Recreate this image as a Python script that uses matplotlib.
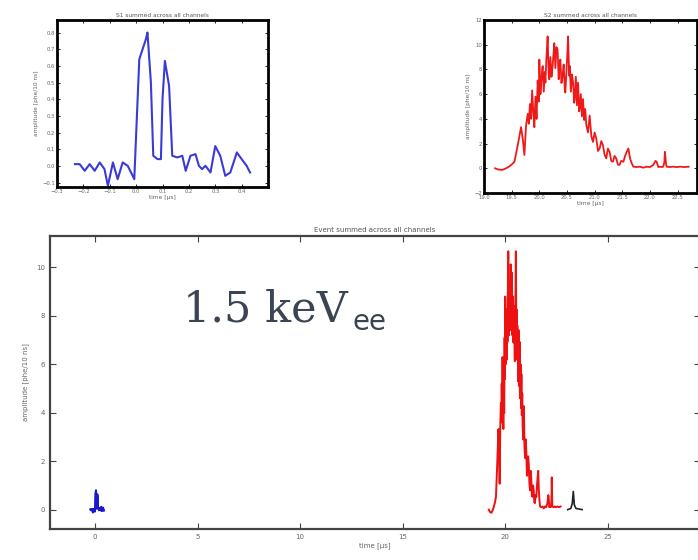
import matplotlib
matplotlib.use("Agg")
import matplotlib.pyplot as plt

# S1 pulse (time in microseconds, amplitude in phe/10 ns)
s1_time = [-0.232, -0.214, -0.195, -0.176, -0.157, -0.138, -0.120, -0.107, -0.088,
           -0.070, -0.051, -0.032, -0.013, -0.007, 0.012, 0.037, 0.043, 0.056, 0.065,
           0.081, 0.094, 0.100, 0.109, 0.125, 0.137, 0.156, 0.175, 0.188, 0.206, 0.225,
           0.238, 0.250, 0.263, 0.282, 0.300, 0.319, 0.338, 0.357, 0.382, 0.400, 0.419,
           0.432]
s1_amp = [0.012, 0.012, -0.028, 0.012, -0.028, 0.022, -0.018, -0.118, 0.022,
          -0.078, 0.022, 0.002, -0.058, -0.078, 0.64, 0.76, 0.80, 0.50, 0.062,
          0.042, 0.042, 0.40, 0.63, 0.48, 0.062, 0.052, 0.062, -0.028, 0.062, 0.072,
          0.002, -0.018, 0.002, -0.038, 0.12, 0.062, -0.058, -0.038, 0.082, 0.042, 0.002,
          -0.038]

# S2 pulse
s2_time = [19.20, 19.26, 19.33, 19.40, 19.45, 19.50, 19.55, 19.58, 19.61, 19.64,
           19.67, 19.70, 19.73, 19.76, 19.79, 19.81, 19.83, 19.85, 19.87, 19.89,
           19.91, 19.93, 19.95, 19.97, 19.99, 20.00, 20.02, 20.03, 20.05, 20.06,
           20.08, 20.10, 20.11, 20.13, 20.15, 20.17, 20.18, 20.20, 20.22, 20.24,
           20.26, 20.27, 20.29, 20.31, 20.33, 20.35, 20.36, 20.38, 20.40, 20.42,
           20.44, 20.46, 20.47, 20.49, 20.51, 20.52, 20.54, 20.55, 20.57, 20.59,
           20.61, 20.63, 20.64, 20.66, 20.68, 20.70, 20.72, 20.73, 20.75, 20.77,
           20.79, 20.81, 20.83, 20.85, 20.88, 20.91, 20.94, 20.97, 21.00, 21.03,
           21.06, 21.09, 21.12, 21.15, 21.18, 21.21, 21.24, 21.27, 21.30, 21.33,
           21.36, 21.39, 21.42, 21.45, 21.48, 21.52, 21.55, 21.58, 21.61, 21.64,
           21.67, 21.70, 21.76, 21.82, 21.88, 21.94, 22.00, 22.06, 22.10, 22.12,
           22.15, 22.18, 22.21, 22.24, 22.26, 22.27, 22.29, 22.30, 22.36, 22.42,
           22.48, 22.55, 22.62, 22.70]
s2_amp = [0.0, -0.1, -0.13, 0.0, 0.13, 0.3, 0.53, 1.2, 1.87, 2.6,
          3.33, 2.4, 1.07, 3.47, 4.4, 3.6, 5.2, 4.0, 6.3, 4.6,
          3.33, 5.8, 4.0, 7.1, 5.4, 8.8, 6.0, 6.67, 7.9, 8.27,
          6.2, 7.8, 6.93, 9.1, 10.67, 7.6, 7.2, 9.0, 7.4, 8.27,
          9.5, 10.13, 8.1, 9.8, 9.6, 7.2, 8.0, 8.8, 6.9, 7.47,
          8.4, 6.4, 6.13, 7.8, 9.6, 10.67, 7.5, 8.27, 6.2, 7.6,
          6.93, 5.3, 5.6, 7.4, 5.1, 6.93, 4.6, 4.8, 6.0, 4.2,
          5.6, 3.9, 4.8, 3.47, 2.9, 4.27, 2.6, 2.13, 2.9, 2.4,
          1.4, 1.6, 2.2, 1.87, 1.1, 0.8, 1.6, 1.33, 0.6, 0.53,
          1.0, 0.8, 0.3, 0.27, 0.6, 0.53, 1.0, 1.33, 1.6, 0.8,
          0.4, 0.13, 0.1, 0.13, 0.05, 0.13, 0.1, 0.27, 0.6, 0.53,
          0.1, 0.13, 0.1, 0.13, 0.5, 1.33, 0.4, 0.13, 0.1, 0.13,
          0.1, 0.13, 0.1, 0.13]

# late single-photon pulse
late_time = [23.05, 23.20, 23.27, 23.32, 23.37, 23.45, 23.75]
late_amp = [0.0, 0.05, 0.25, 0.75, 0.2, 0.05, 0.0]

main_xticks = [0, 5, 10, 15, 20, 25]
main_yticks = [0, 2, 4, 6, 8, 10]
s1_xticks = [-0.3, -0.2, -0.1, 0, 0.1, 0.2, 0.3, 0.4]
s1_yticks = [-0.1, 0, 0.1, 0.2, 0.3, 0.4, 0.5, 0.6, 0.7, 0.8]
s2_xticks = [19, 19.5, 20, 20.5, 21, 21.5, 22, 22.5]
s2_yticks = [-2, 0, 2, 4, 6, 8, 10, 12]

W, H = 698, 560
fig = plt.figure(figsize=(W / 100, H / 100), dpi=100)
fig.patch.set_facecolor("white")


def box(l, t, r, b):
    return [l / W, 1 - b / H, (r - l) / W, (b - t) / H]


label_color = "#666666"
small = 4.2

# ---- main event trace ----
ax = fig.add_axes(box(50, 236, 700, 529))
ax.plot(s2_time, s2_amp, color="#ee1111", lw=1.4)
ax.plot(s1_time, s1_amp, color="#1a1acc", lw=1.5)
ax.plot(late_time, late_amp, color="#222222", lw=1.2)
ax.set_xlim(-2.2, 29.5)
ax.set_ylim(-0.8, 11.3)
ax.set_xticks(main_xticks)
ax.set_yticks(main_yticks)
ax.tick_params(direction="in", top=True, right=True, length=4, width=0.8,
               colors="#444444", labelsize=5, labelcolor=label_color)
for s in ax.spines.values():
    s.set_linewidth(1.6)
    s.set_color("#444444")
ax.set_title("Event summed across all channels", fontsize=5, color="#555555", pad=3)
ax.set_xlabel("time [\u03bcs]", fontsize=5, color=label_color, labelpad=2)
ax.set_ylabel("amplitude [phe/10 ns]", fontsize=5, color=label_color, labelpad=5)

# ---- S1 inset ----
a1 = fig.add_axes(box(57, 20, 268, 187))
a1.plot(s1_time, s1_amp, color="#3a3ad8", lw=1.5)
a1.set_xlim(-0.3, 0.5)
a1.set_ylim(-0.125, 0.875)
a1.set_xticks(s1_xticks)
a1.set_yticks(s1_yticks)
a1.tick_params(direction="in", top=True, right=True, length=2, width=0.6,
               labelsize=small * 0.9, labelcolor=label_color, pad=1.5)
for s in a1.spines.values():
    s.set_linewidth(2)
a1.set_title("S1 summed across all channels", fontsize=small, color="#555555", pad=2)
a1.set_xlabel("time [\u03bcs]", fontsize=small, color=label_color, labelpad=1)
a1.set_ylabel("amplitude [phe/10 ns]", fontsize=small, color=label_color, labelpad=2)

# ---- S2 inset ----
a2 = fig.add_axes(box(484, 20, 697, 193))
a2.plot(s2_time, s2_amp, color="#ee1a1a", lw=1.3)
a2.set_xlim(19, 22.85)
a2.set_ylim(-2, 12)
a2.set_xticks(s2_xticks)
a2.set_yticks(s2_yticks)
a2.tick_params(direction="in", top=True, right=True, length=2, width=0.6,
               labelsize=small * 0.9, labelcolor=label_color, pad=1.5)
for s in a2.spines.values():
    s.set_linewidth(2)
a2.set_title("S2 summed across all channels", fontsize=small, color="#555555", pad=2)
a2.set_xlabel("time [\u03bcs]", fontsize=small, color=label_color, labelpad=1)
a2.set_ylabel("amplitude [phe/10 ns]", fontsize=small, color=label_color, labelpad=2)

# ---- energy annotation ----
fig.text(183 / W, 1 - 321 / H, "1.5 keV", fontsize=31, family="DejaVu Serif",
         color="#3b4452", ha="left", va="baseline")
fig.text(352 / W, 1 - 330 / H, "ee", fontsize=20, family="DejaVu Sans",
         color="#3b4452", ha="left", va="baseline")

fig.savefig("out.png", dpi=100, facecolor="white")
